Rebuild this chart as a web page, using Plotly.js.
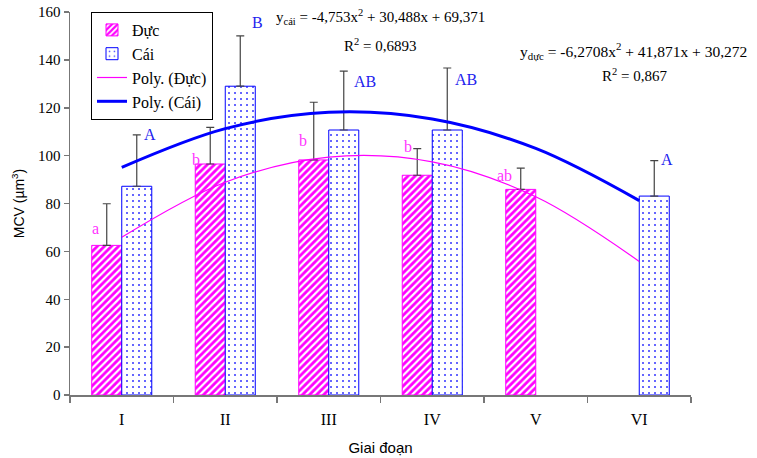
<!DOCTYPE html>
<html>
<head>
<meta charset="utf-8">
<script src="https://cdn.plot.ly/plotly-3.0.1.min.js"></script>
<style>html,body{margin:0;padding:0;background:#fff;}#chart{width:757px;height:458px;}</style>
</head>
<body>
<div id="chart"></div>
<script>
// ---- data ----
const stages = ['I', 'II', 'III', 'IV', 'V', 'VI'];
const maleValues = [62.5, 96.5, 98.2, 91.8, 85.9, null];
const maleErrors = [17.4, 15.3, 24.1, 11.1, 8.9, null];
const femaleValues = [87.2, 129.0, 110.7, 110.7, null, 83.1];
const femaleErrors = [21.5, 21.0, 24.6, 25.9, null, 14.8];
const maleTrend = [65.9, 88.9, 99.4, 97.4, 82.8, 55.8];
const femaleTrend = [95.1, 111.3, 118.1, 115.3, 103.0, 81.2];
const maleLetters = ['a', 'b', 'b', 'b', 'ab', ''];
const femaleLetters = ['A', 'B', 'AB', 'AB', '', 'A'];
const eqFemale = 'y<sub>cái</sub> = -4,753x<sup>2</sup> + 30,488x + 69,371';
const r2Female = 'R<sup>2</sup> = 0,6893';
const eqMale = 'y<sub>dực</sub> = -6,2708x<sup>2</sup> + 41,871x + 30,272';
const r2Male = 'R<sup>2</sup> = 0,867';

// ---- styling / placement ----
const SERIF = 'Liberation Serif, Times New Roman, serif';
const SANS = 'Liberation Sans, Arial, sans-serif';
const PINK = '#ff00ff';
const BLUE = '#0000ff';
// pixel offsets for significance letters (x from category centre, y from anchor)
const maleLetterDx = [-26, -29, -26, -24, -31, 0];
const maleLetterDy = [17, 5, 19, 29, 14, 0];
const femaleLetterDx = [28, 32, 36, 34, 0, 28];
const femaleLetterDy = [0, 13, -10, -11, 0, 1];

const traces = [
  {
    type: 'bar', name: 'Đực', x: stages, y: maleValues,
    marker: {color: '#ffffff', line: {color: PINK, width: 1},
      pattern: {shape: '/', fgcolor: PINK, bgcolor: '#ffffff', size: 5, solidity: 0.55}},
    error_y: {type: 'data', symmetric: false, array: maleErrors, arrayminus: maleErrors.map(() => 0),
      color: '#444444', thickness: 1.2, width: 4}
  },
  {
    type: 'bar', name: 'Cái', x: stages, y: femaleValues,
    marker: {color: '#ffffff', line: {color: BLUE, width: 1},
      pattern: {shape: '.', fgcolor: '#3333ff', bgcolor: '#ffffff', size: 6, solidity: 0.09}},
    error_y: {type: 'data', symmetric: false, array: femaleErrors, arrayminus: femaleErrors.map(() => 0),
      color: '#444444', thickness: 1.2, width: 4}
  },
  {
    type: 'scatter', mode: 'lines', name: 'Poly. (Đực)', x: stages, y: maleTrend,
    line: {color: PINK, width: 1.2, shape: 'spline', smoothing: 1}
  },
  {
    type: 'scatter', mode: 'lines', name: 'Poly. (Cái)', x: stages, y: femaleTrend,
    line: {color: BLUE, width: 3, shape: 'spline', smoothing: 1}
  }
];

const annotations = [];
stages.forEach((s, i) => {
  if (maleLetters[i]) {
    annotations.push({x: s, y: maleValues[i], text: maleLetters[i], showarrow: false,
      xanchor: 'center', yanchor: 'middle',
      xshift: maleLetterDx[i], yshift: maleLetterDy[i],
      font: {family: SERIF, size: 16, color: '#ff33ff'}});
  }
  if (femaleLetters[i]) {
    annotations.push({x: s, y: femaleValues[i] + femaleErrors[i], text: femaleLetters[i], showarrow: false,
      xanchor: 'center', yanchor: 'middle',
      xshift: femaleLetterDx[i], yshift: femaleLetterDy[i],
      font: {family: SERIF, size: 16, color: '#2222ee'}});
  }
});
const plotL = 70, plotR = 691, plotT = 12, plotB = 395;
const px = v => (v - plotL) / (plotR - plotL);
const py = v => (plotB - v) / (plotB - plotT);
const eqFont = {family: SERIF, size: 15, color: '#000'};
annotations.push(
  {xref: 'paper', yref: 'paper', x: px(380), y: py(17), text: eqFemale, showarrow: false,
    xanchor: 'center', yanchor: 'middle', font: eqFont},
  {xref: 'paper', yref: 'paper', x: px(380), y: py(45), text: r2Female, showarrow: false,
    xanchor: 'center', yanchor: 'middle', font: eqFont},
  {xref: 'paper', yref: 'paper', x: px(633), y: py(51), text: eqMale, showarrow: false,
    xanchor: 'center', yanchor: 'middle', font: {family: SERIF, size: 15.5, color: '#000'}},
  {xref: 'paper', yref: 'paper', x: px(634), y: py(75), text: r2Male, showarrow: false,
    xanchor: 'center', yanchor: 'middle', font: eqFont}
);

const layout = {
  width: 757, height: 458,
  margin: {l: plotL, r: 757 - plotR, t: plotT, b: 458 - plotB},
  paper_bgcolor: '#ffffff', plot_bgcolor: '#ffffff',
  barmode: 'group', bargap: 0.42, bargroupgap: 0,
  showlegend: true,
  legend: {x: px(91), y: 1, xanchor: 'left', yanchor: 'top',
    bgcolor: '#ffffff', bordercolor: '#000000', borderwidth: 1,
    font: {family: SERIF, size: 16, color: '#000'}, tracegroupgap: 0, itemwidth: 30},
  xaxis: {
    type: 'category', showgrid: false, zeroline: false,
    showline: true, linecolor: '#777777', linewidth: 1.5,
    ticks: 'outside', tickson: 'boundaries', ticklen: 6, tickcolor: '#777777', tickwidth: 1.5,
    ticklabelstandoff: 9,
    tickfont: {family: SERIF, size: 16, color: '#000'},
    title: {text: 'Giai đoạn', font: {family: SANS, size: 15, color: '#000'}, standoff: 16}
  },
  yaxis: {
    range: [0, 160], dtick: 20, showgrid: false, zeroline: false,
    showline: true, linecolor: '#777777', linewidth: 1.5,
    ticks: 'outside', ticklen: 5, tickcolor: '#777777', tickwidth: 1.5,
    tickfont: {family: SERIF, size: 15, color: '#000'},
    title: {text: 'MCV (µm<sup>3</sup>)', font: {family: SANS, size: 14, color: '#000'}, standoff: 10}
  },
  annotations: annotations
};

Plotly.newPlot('chart', traces, layout, {displayModeBar: false, staticPlot: true});
</script>
</body>
</html>
